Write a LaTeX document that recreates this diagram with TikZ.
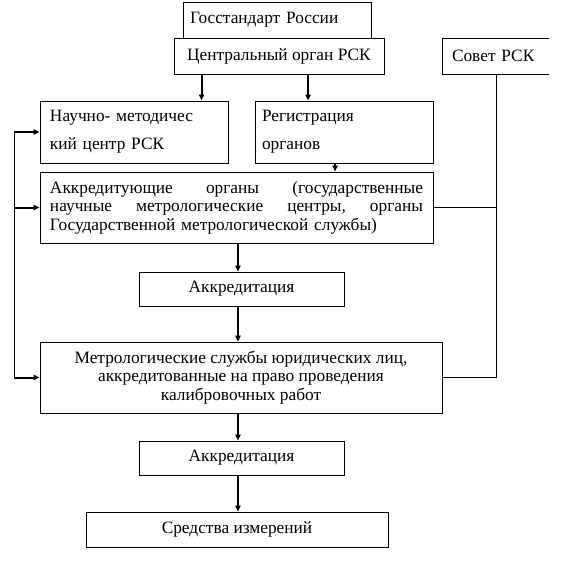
\documentclass[tikz,border=0pt]{standalone}
\usepackage{fontspec}
\setmainfont{Liberation Serif}
\usetikzlibrary{arrows.meta,calc}

\tikzset{
  box/.style={draw, line width=0.75pt, inner xsep=5.25pt, inner ysep=1pt,
    font=\rmfamily\fontsize{13}{13.8}\selectfont},
  widebox/.style={box, font=\rmfamily\fontsize{13}{21}\selectfont},
  arr/.style={-{Triangle[length=4.5pt,width=4pt]}, line width=1.5pt},
  link/.style={line width=0.75pt}
}

\begin{document}
\begin{tikzpicture}[x=0.75pt, y=-0.75pt]
    \useasboundingbox (0,0) rectangle (568,565);

    % Top level
    \node[box, minimum width=141pt, minimum height=27pt, text width=130.5pt, align=left]
        (gos) at (277,20) {Госстандарт России};
    \node[box, fill=white, minimum width=157.5pt, minimum height=27pt]
        (central) at (279,56) {Центральный орган РСК};
    \begin{scope}
        \clip (0,0) rectangle (549,565);
        \node[box, minimum width=87pt, minimum height=27pt, inner xsep=7.5pt,
            text width=72pt, align=left] (sovet) at (500,56) {Совет РСК};
    \end{scope}

    % Second level
    \node[widebox, minimum width=141pt, minimum height=46.5pt, inner xsep=7.5pt,
        text width=126pt, align=left] (nmc) at (134,132)
        {Научно- методичес\\кий центр РСК};
    \node[widebox, minimum width=133.5pt, minimum height=46.5pt, text width=123pt,
        align=left] (reg) at (344,132) {Регистрация\\органов};

    % Accrediting bodies
    \node[box, minimum height=53.25pt, inner xsep=7.5pt, text width=279.75pt,
        align=left] (akorg) at (236.5,207.5)
        {Аккредитующие\hfill органы\hfill (государственные\\
         научные\hfill метрологические\hfill центры,\hfill органы\\
         Государственной метрологической службы)};
    \node[box, minimum width=153.75pt, minimum height=25.5pt]
        (akr1) at (241.5,289) {Аккредитация};

    % Metrological services
    \node[box, minimum width=301.5pt, minimum height=53.25pt, align=center]
        (metr) at (241,377.5)
        {Метрологические службы юридических лиц,\\
         аккредитованные на право проведения\\
         калибровочных работ};
    \node[box, minimum width=153.75pt, minimum height=25.5pt]
        (akr2) at (241.5,458) {Аккредитация};
    \node[box, minimum width=226.5pt, minimum height=26.25pt]
        (sredstva) at (237,529.5) {Средства измерений};

    % Arrows down
    \draw[arr] ($(central.south west)!0.133!(central.south east)$) coordinate (c1)
        -- (c1 |- nmc.north);
    \draw[arr] ($(central.south west)!0.638!(central.south east)$) coordinate (c2)
        -- (c2 |- reg.north);
    \draw[arr] ($(reg.south west)!0.45!(reg.south east)$) coordinate (c3)
        -- (c3 |- akorg.north);

    \coordinate (spine) at (238,0);
    \draw[arr] (akorg.south -| spine) -- (akr1.north -| spine);
    \draw[arr] (akr1.south -| spine) -- (metr.north -| spine);
    \draw[arr] (metr.south -| spine) -- (akr2.north -| spine);
    \draw[arr] (akr2.south -| spine) -- (sredstva.north -| spine);

    % Left feedback line
    \coordinate (lft) at (14,0);
    \draw[link] (lft |- nmc.west) -- (lft |- metr.west);
    \foreach \n in {nmc, akorg, metr}
        \draw[arr] (lft |- \n.west) -- (\n.west);

    % Right line from Sovet
    \coordinate (rgt) at (496,0);
    \draw[link] (sovet.south -| rgt) -- (rgt |- metr.east) -- (metr.east);
    \draw[link] (akorg.east) -- (akorg.east -| rgt);

\end{tikzpicture}
\end{document}
